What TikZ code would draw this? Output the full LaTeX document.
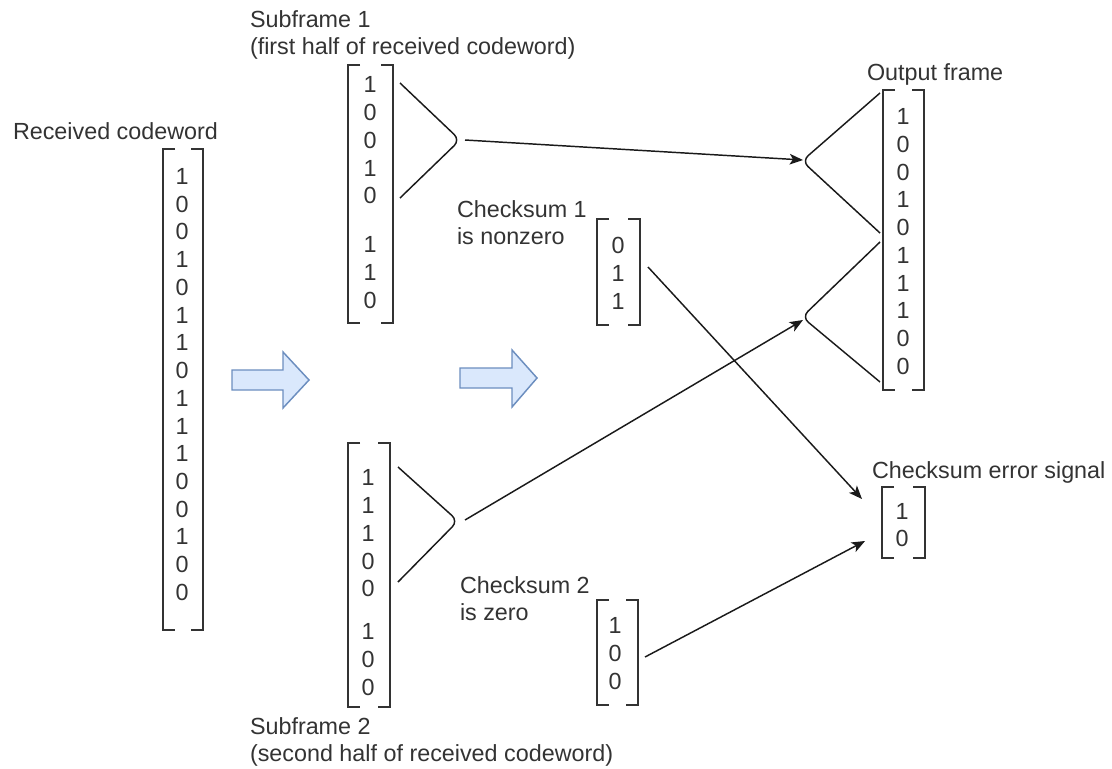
\documentclass[tikz,border=0pt]{standalone}
\usepackage{fontspec}
\setmainfont{Liberation Sans}
\usetikzlibrary{arrows.meta}
\definecolor{txt}{HTML}{333333}
\definecolor{lin}{HTML}{1A1A1A}
\definecolor{bafill}{HTML}{DAE8FC}
\definecolor{badraw}{HTML}{6C8EBF}
\newcommand\vecbrackets[1]{%
  \draw[brk] ([xshift=9pt]#1.north west) -- (#1.north west) -- (#1.south west) -- ([xshift=9pt]#1.south west);
  \draw[brk] ([xshift=-9pt]#1.north east) -- (#1.north east) -- (#1.south east) -- ([xshift=-9pt]#1.south east);}
\begin{document}
\begin{tikzpicture}[x=0.75pt,y=-0.75pt,
  every node/.style={inner sep=0pt, outer sep=0pt, text=txt},
  lbl/.style={font=\fontsize{17.5pt}{20.25pt}\selectfont, align=left},
  digits/.style={font=\fontsize{17.5pt}{20.8pt}\selectfont, align=center},
  vecbox/.style={draw=none},
  brk/.style={draw=txt, line width=1.1pt},
  brace/.style={draw=lin, line width=1.1pt, rounded corners=6pt},
  conn/.style={draw=lin, line width=1.1pt, -{Stealth[length=10pt,width=8pt,inset=2.5pt]}},
  barrow/.style={fill=bafill, draw=badraw, line width=1.1pt, line join=miter}]
\path[use as bounding box] (0,0) rectangle (1112,768);

% Received codeword
\node[lbl, anchor=base west] (rcl) at (13,139) {Received codeword};
\node[vecbox, minimum width=30pt, minimum height=360.75pt] (rc) at (183,389.5) {};
\vecbrackets{rc}
\node[digits] (rcd) at (182,384.5) {1\\0\\0\\1\\0\\1\\1\\0\\1\\1\\1\\0\\0\\1\\0\\0};

% Subframe 1
\node[lbl, anchor=north west] (sf1l) at (250,11) {Subframe 1\\(first half of received codeword)};
\node[vecbox, minimum width=33.75pt, minimum height=193.5pt] (sf1) at (370.5,194) {};
\vecbrackets{sf1}
\node[digits] (sf1d) at (370,192.7) {1\\0\\0\\1\\0\\[16.1pt]1\\1\\0};

% Subframe 2
\node[lbl, anchor=north west] (sf2l) at (250,718) {Subframe 2\\(second half of received codeword)};
\node[vecbox, minimum width=31.5pt, minimum height=198pt] (sf2) at (369,575) {};
\vecbrackets{sf2}
\node[digits] (sf2d) at (368,582.7) {1\\1\\1\\0\\0\\[11.6pt]1\\0\\0};

% Checksum 1
\node[lbl, anchor=north west] (cs1l) at (457,201) {Checksum 1\\is nonzero};
\node[vecbox, minimum width=32.25pt, minimum height=79.5pt] (cs1) at (618.5,272) {};
\vecbrackets{cs1}
\node[digits] (cs1d) at (618,273.5) {0\\1\\1};

% Checksum 2
\node[lbl, anchor=north west] (cs2l) at (460,577) {Checksum 2\\is zero};
\node[vecbox, minimum width=30.75pt, minimum height=78.75pt] (cs2) at (617.5,652.5) {};
\vecbrackets{cs2}
\node[digits] (cs2d) at (615,653.5) {1\\0\\0};

% Output frame
\node[lbl, anchor=base west] (outl) at (867,80) {Output frame};
\node[vecbox, minimum width=30.75pt, minimum height=225pt] (out) at (903.5,240) {};
\vecbrackets{out}
\node[digits] (outd) at (903,241.5) {1\\0\\0\\1\\0\\1\\1\\1\\0\\0};

% Checksum error signal
\node[lbl, anchor=base west] (errl) at (872,478) {Checksum error signal};
\node[vecbox, minimum width=32.25pt, minimum height=53.25pt] (err) at (903.5,522.5) {};
\vecbrackets{err}
\node[digits] (errd) at (902,525) {1\\0};

% Braces
\draw[brace] (400,83) -- (460,140) -- (400,198);
\draw[brace] (398,467) -- (458,521) -- (398,582);
\draw[brace] (880,93) -- (802,161) -- (880,233);
\draw[brace] (880,242) -- (802,317) -- (880,382);

% Block arrows
\draw[barrow] (232,370) -- (283,370) -- (283,352) -- (309,380) -- (283,408) -- (283,390) -- (232,390) -- cycle;
\draw[barrow] (460,368) -- (512,368) -- (512,350) -- (537,378) -- (512,407) -- (512,388) -- (460,388) -- cycle;

% Connector end points
\coordinate (b1) at (465,140);
\coordinate (b2) at (465,520);
\coordinate (o1) at (803,160);
\coordinate (o2) at (803,320);
\coordinate (c1) at (648,267);
\coordinate (c2) at (645,657);
\coordinate (e1) at (862,499);
\coordinate (e2) at (865,541);

\draw[conn] (b1) -- (o1);
\draw[conn] (b2) -- (o2);
\draw[conn] (c1) -- (e1);
\draw[conn] (c2) -- (e2);
\end{tikzpicture}
\end{document}
